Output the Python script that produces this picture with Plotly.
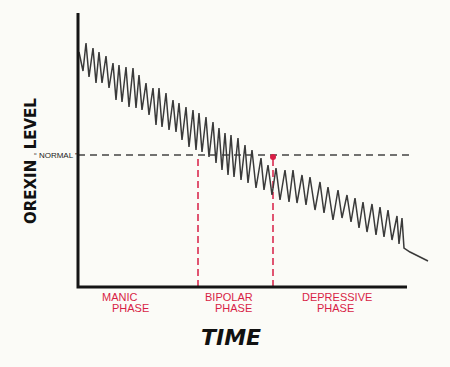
import plotly.graph_objects as go

# ---- data (time units ~ px from y-axis, level units ~ px above x-axis) ----
start_t = [1, 5]
start_level = [235, 216]
peak_t = [8, 15, 21, 28, 35, 41, 48, 55, 61, 68, 75, 81, 88, 95, 101, 108, 115, 121, 128, 135, 141, 147,
          153, 160, 167, 174, 183, 190, 198, 207, 215, 224, 232, 242, 250, 260, 269, 277, 285, 294, 302, 310, 319, 324]
peak_level = [244, 239, 235, 231, 224, 222, 220, 219, 212, 204, 199, 199, 194, 187, 184, 180, 177, 174, 170, 165, 159, 154,
              152, 149, 142, 137, 129, 122, 119, 117, 117, 112, 110, 105, 100, 97, 92, 89, 85, 83, 80, 77, 71, 69]
trough_t = [11, 18, 24, 31, 38, 44, 51, 58, 64, 71, 78, 84, 91, 98, 104, 111, 118, 124, 131, 138, 144, 150,
            156, 163, 170, 178, 186, 194, 202, 211, 219, 228, 237, 246, 255, 264, 273, 281, 289, 298, 306, 314, 321, 326]
trough_level = [210, 204, 204, 199, 187, 185, 180, 179, 177, 172, 162, 160, 157, 155, 147, 140, 137, 135, 130, 124, 117, 112,
                110, 107, 104, 99, 97, 92, 87, 85, 84, 82, 77, 74, 67, 69, 65, 59, 55, 52, 50, 47, 43, 39]
tail_t = [332, 340, 350]
tail_level = [35, 31, 26]

normal_level = 132
time_end = 329
level_top = 274
phase_bounds = [120, 195]
phase_names = [("MANIC", "PHASE"), ("BIPOLAR", "PHASE"), ("DEPRESSIVE", "PHASE")]
dot_t, dot_level = 195, 130

xs = list(start_t)
ys = list(start_level)
for pt, pl, tt, tl in zip(peak_t, peak_level, trough_t, trough_level):
    xs += [pt, tt]
    ys += [pl, tl]
xs += tail_t
ys += tail_level

RED = "#d81e45"
BG = "#fbfbf7"

ML, MR, MT, MB = 70, 10, 8, 72
W, H = 450, 367
PW, PH = W - ML - MR, H - MT - MB


def px(x, y):
    return (x - ML) / PW, (H - MB - y) / PH


fig = go.Figure()
fig.add_trace(go.Scatter(x=[0, 332], y=[normal_level, normal_level], mode="lines",
                         line=dict(color="#444444", width=1.3, dash="7px,5px"), hoverinfo="skip"))
for b, top in zip(phase_bounds, [normal_level, dot_level]):
    fig.add_trace(go.Scatter(x=[b, b], y=[0, top], mode="lines",
                             line=dict(color=RED, width=1.5, dash="7px,4px"), hoverinfo="skip"))
fig.add_trace(go.Scatter(x=xs, y=ys, mode="lines", line=dict(color="#3a3a3a", width=1.5), hoverinfo="skip"))
fig.add_trace(go.Scatter(x=[0, 0, time_end], y=[level_top, 0, 0], mode="lines",
                         line=dict(color="#151515", width=3), hoverinfo="skip"))
fig.add_trace(go.Scatter(x=[dot_t], y=[dot_level], mode="markers",
                         marker=dict(color=RED, size=6), hoverinfo="skip"))

ann = []


def add(text, x, y, size, color, family="DejaVu Sans", angle=0):
    xp, yp = px(x, y)
    ann.append(dict(xref="paper", yref="paper", x=xp, y=yp, text=text, textangle=angle,
                    showarrow=False, xanchor="center", yanchor="middle",
                    font=dict(family=family, size=size, color=color)))


add("<b>OREXIN  LEVEL</b>", 31, 161, 15, "#111111", angle=-90)
add("\u201c NORMAL \u201d", 56, 155, 8, "#222222", family="Liberation Sans Narrow, Liberation Sans")
add("<b><i>TIME</i></b>", 231, 338, 22, "#111111")
label_px = [((120, 297), (130, 308)), ((229, 297), (233, 308)), ((337, 297), (335, 308))]
for (n1, n2), (p1, p2) in zip(phase_names, label_px):
    add(n1, p1[0], p1[1], 11, RED, family="Liberation Sans Narrow, Liberation Sans")
    add(n2, p2[0], p2[1], 11, RED, family="Liberation Sans Narrow, Liberation Sans")

fig.update_layout(
    width=W, height=H,
    margin=dict(l=ML, r=MR, t=MT, b=MB),
    paper_bgcolor=BG, plot_bgcolor=BG,
    showlegend=False,
    xaxis=dict(range=[-8, 362], visible=False, fixedrange=True),
    yaxis=dict(range=[-8, 279], visible=False, fixedrange=True),
    annotations=ann,
)
fig.write_html("out.html", config={"displayModeBar": False},
               post_script="document.body.style.margin='0';document.body.style.background='%s';" % BG)
